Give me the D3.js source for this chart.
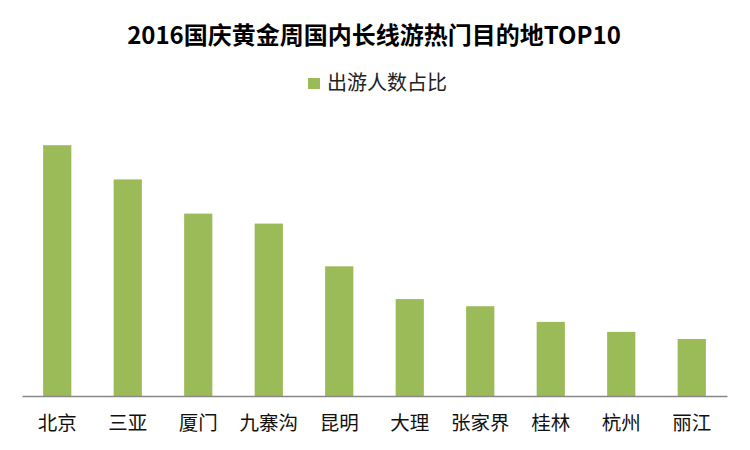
<!DOCTYPE html>
<html>
<head>
<meta charset="utf-8">
<script src="https://cdn.jsdelivr.net/npm/d3@7"></script>
<style>
  body { margin: 0; background: #fff; }
  text { font-family: "Noto Sans CJK SC", "Noto Sans", sans-serif; }
</style>
</head>
<body>
<svg width="750" height="450"></svg>
<script>
// values (share of travellers, approx.)
const cities = ["北京", "三亚", "厦门", "九寨沟", "昆明", "大理", "张家界", "桂林", "杭州", "丽江"];
const shares = [17.6, 15.2, 12.8, 12.1, 9.1, 6.8, 6.3, 5.2, 4.5, 4.0];
const seriesName = "出游人数占比";
const title = "2016国庆黄金周国内长线游热门目的地TOP10";

const data = cities.map((c, i) => ({ city: c, value: shares[i] }));

const svg = d3.select("svg");
const barColor = "#9bbb59";

const x = d3.scaleBand()
  .domain(cities)
  .range([22, 727])
  .paddingInner(0.6)
  .paddingOuter(0.3);

const y = d3.scaleLinear()
  .domain([0, 20])
  .range([396, 111]);

// Title
svg.append("text")
  .attr("x", 374)
  .attr("y", 44)
  .attr("text-anchor", "middle")
  .style("font-size", "24px")
  .style("font-weight", "bold")
  .attr("fill", "#000")
  .text(title);

// Legend
const legend = svg.append("g").attr("transform", "translate(308,78)");
legend.append("rect")
  .attr("width", 12)
  .attr("height", 11)
  .attr("fill", barColor);
legend.append("text")
  .attr("x", 19)
  .attr("y", 12)
  .style("font-size", "20px")
  .attr("fill", "#222")
  .text(seriesName);

// Bars
svg.selectAll(".bar")
  .data(data)
  .enter().append("rect")
  .attr("class", "bar")
  .attr("x", d => x(d.city))
  .attr("y", d => y(d.value))
  .attr("width", x.bandwidth())
  .attr("height", d => y(0) - y(d.value))
  .attr("fill", barColor);

// X axis
const xAxis = svg.append("g")
  .attr("transform", `translate(0,${y(0)})`)
  .call(d3.axisBottom(x).tickSize(0).tickPadding(20));

xAxis.select(".domain")
  .attr("stroke", "#888")
  .attr("stroke-width", 1.5);

xAxis.selectAll("text")
  .style("font-size", "19.5px")
  .style("font-family", "\"Noto Sans CJK SC\", sans-serif")
  .attr("fill", "#111");
</script>
</body>
</html>
